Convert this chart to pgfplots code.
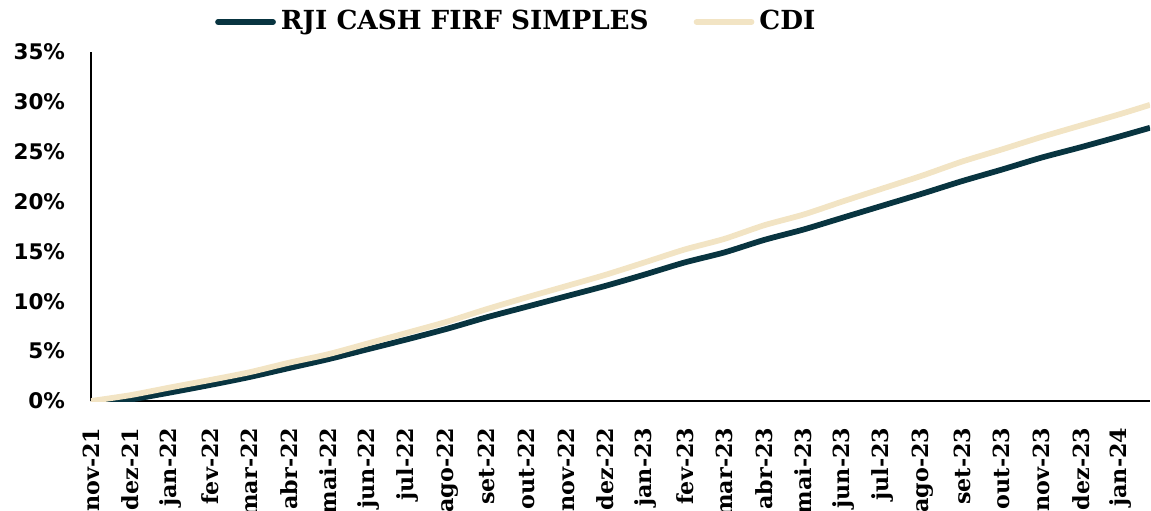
\documentclass[border=0pt]{standalone}
\usepackage{pgfplots}
\pgfplotsset{compat=1.18}
\usepackage{fontspec}
\setmainfont{DejaVu Serif}
\newfontfamily\ysans{DejaVu Sans}
\definecolor{rjidark}{RGB}{8,52,64}
\definecolor{cdibeige}{RGB}{242,228,196}
\begin{document}
\begin{tikzpicture}
\begin{axis}[
  at={(0,0)}, anchor=south west,
  scale only axis,
  width=423.6pt, height=139.6pt,
  xmin=0, xmax=26.75, ymin=0, ymax=35,
  axis x line=bottom, axis y line=left,
  axis line style={-, line width=0.7pt, black},
  major tick length=0pt,
  xtick={0,...,26},
  xticklabels={nov-21,dez-21,jan-22,fev-22,mar-22,abr-22,mai-22,jun-22,jul-22,ago-22,set-22,out-22,nov-22,dez-22,jan-23,fev-23,mar-23,abr-23,mai-23,jun-23,jul-23,ago-23,set-23,out-23,nov-23,dez-23,jan-24},
  xticklabel style={rotate=90, anchor=east, font=\fontsize{8.9}{10}\selectfont\bfseries, inner sep=0pt},
  xticklabel shift=10.5pt,
  ytick={0,5,10,15,20,25,30,35},
  yticklabels={0\%,5\%,10\%,15\%,20\%,25\%,30\%,35\%},
  yticklabel style={font=\fontsize{8.6}{10}\selectfont\ysans\bfseries, anchor=east, inner sep=0pt},
  yticklabel shift=10.2pt,
  legend columns=2,
  legend style={draw=none, fill=none, at={(0.403,1)}, anchor=center, yshift=12pt,
    font=\fontsize{10.5}{12}\selectfont\bfseries,
    /tikz/every even column/.append style={column sep=16pt},
    inner sep=0pt},
  legend image code/.code={\draw[#1, line cap=round] (0pt,0pt) -- (22pt,0pt);},
]
\addplot[rjidark, line width=2.3pt, line join=round, smooth, tension=0.4] coordinates {
(0,0) (0.5,0) (1,0.15) (2,0.85) (3,1.6) (4,2.4) (5,3.3) (6,4.2) (7,5.2) (8,6.2)
(9,7.25) (10,8.4) (11,9.45) (12,10.5) (13,11.55) (14,12.7) (15,13.9) (16,14.9)
(17,16.15) (18,17.2) (19,18.4) (20,19.6) (21,20.8) (22,22.05) (23,23.2) (24,24.4)
(25,25.45) (26,26.55) (26.75,27.4)
};
\addlegendentry{RJI CASH FIRF SIMPLES}
\addplot[cdibeige, line width=2.3pt, line join=round, smooth, tension=0.4] coordinates {
(0,0) (1,0.59) (2,1.36) (3,2.10) (4,2.88) (5,3.84) (6,4.70) (7,5.78) (8,6.86)
(9,7.96) (10,9.22) (11,10.39) (12,11.52) (13,12.66) (14,13.92) (15,15.20) (16,16.26)
(17,17.62) (18,18.70) (19,20.03) (20,21.32) (21,22.61) (22,24.01) (23,25.22) (24,26.47)
(25,27.63) (26,28.78) (26.75,29.7)
};
\addlegendentry{CDI}
\end{axis}
\pgfresetboundingbox
\path[use as bounding box] (-36.4pt,-43.6pt) rectangle (424pt,160.4pt);
\end{tikzpicture}
\end{document}
